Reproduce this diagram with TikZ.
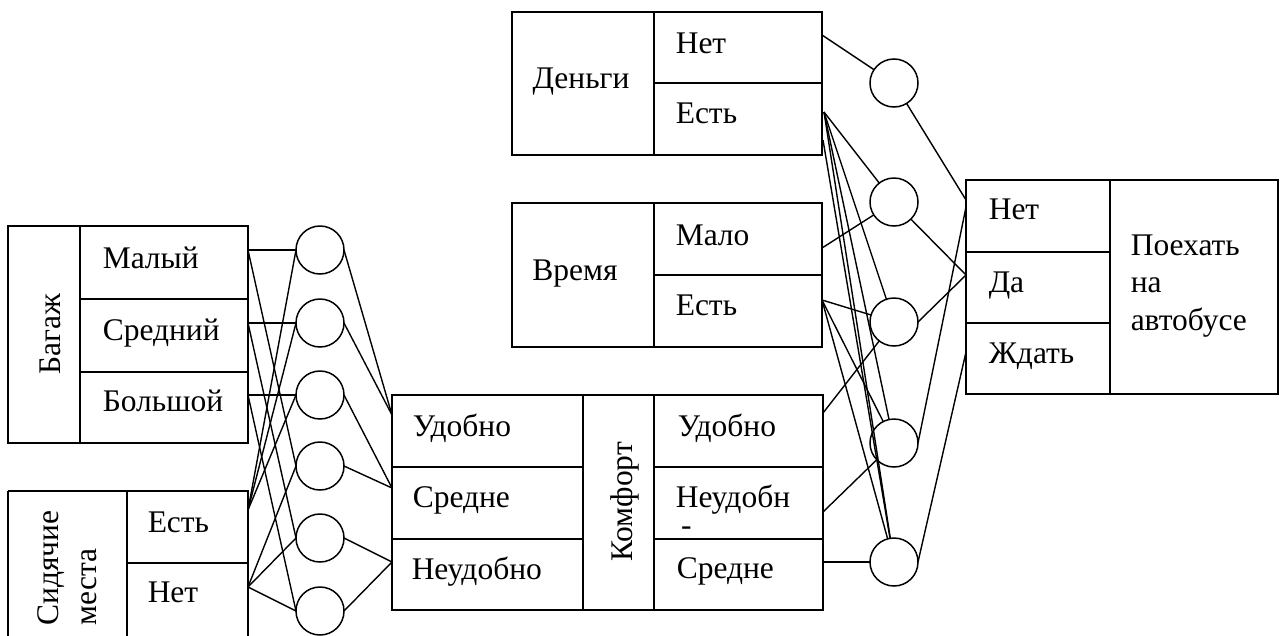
\documentclass[tikz,border=0pt]{standalone}
\usepackage{fontspec}
\setmainfont{Liberation Serif}
\begin{document}
\begin{tikzpicture}[x=1pt,y=-1pt,line width=1.5pt,
  txt/.style={font=\fontsize{31.5}{37.5}\selectfont, inner sep=0pt},
  lbl/.style={txt, anchor=base west},
  neuron/.style={circle, draw, minimum size=48pt, inner sep=0pt, outer sep=0pt},
  wire/.style={line width=1.4pt}]
\useasboundingbox (0,0) rectangle (1288,635);
\fill[white] (0,0) rectangle (1288,635);

% ---------- Багаж ----------
\draw (8,226) rectangle (248,443);
\draw (80,226) -- (80,443);
\draw (80,299) -- (248,299);
\draw (80,372) -- (248,372);
\node[txt, rotate=90] (bag) at (50,334) {Багаж};
\node[lbl] (bm) at (102,268) {Малый};
\node[lbl] (bs) at (102,340) {Средний};
\node[lbl] (bb) at (102,411) {Большой};

% ---------- Сидячие места ----------
\draw (8,491) -- (8,645) (8,491) -- (248,491) -- (248,645);
\draw (127,491) -- (127,645);
\draw (127,563) -- (248,563);
\node[txt, rotate=90, align=left] (sid) at (67,568) {Сидячие\\места};
\node[lbl] (se) at (147,532) {Есть};
\node[lbl] (sn) at (147,602) {Нет};

% ---------- Комфорт ----------
\draw (392,395) rectangle (823,610);
\draw (583,395) -- (583,610);
\draw (654,395) -- (654,610);
\draw (392,467) -- (583,467);
\draw (392,539) -- (583,539);
\draw (654,467) -- (823,467);
\draw (654,539) -- (823,539);
\node[txt, rotate=90] (komf) at (625,502) {Комфорт};
\node[lbl] (kl1) at (412,436) {Удобно};
\node[lbl] (kl2) at (412,507) {Средне};
\node[lbl] (kl3) at (411,579) {Неудобно};
\node[lbl] (kr1) at (677,436) {Удобно};
\node[lbl, align=left, anchor=north west] (kr2) at (675,484) {Неудобн\\[-9pt]\,-};
\node[lbl] (kr3) at (676,578) {Средне};

% ---------- Деньги ----------
\draw (512,12) rectangle (822,155);
\draw (654,12) -- (654,155);
\draw (654,83) -- (822,83);
\node[txt, anchor=base] (den) at (581,88) {Деньги};
\node[lbl] (dnt) at (675,53) {Нет};
\node[lbl] (det) at (675,123) {Есть};

% ---------- Время ----------
\draw (512,203) rectangle (822,347);
\draw (654,203) -- (654,347);
\draw (654,275) -- (822,275);
\node[txt, anchor=base] (vr) at (575,280) {Время};
\node[lbl] (vmt) at (675,245) {Мало};
\node[lbl] (vet) at (675,315) {Есть};

% ---------- Поехать на автобусе ----------
\draw (966,180) rectangle (1278,394);
\draw (1110,180) -- (1110,394);
\draw (966,252) -- (1110,252);
\draw (966,323) -- (1110,323);
\node[lbl] (ont) at (988,219) {Нет};
\node[lbl] (odt) at (988,292) {Да};
\node[lbl] (owt) at (988,363) {Ждать};
\node[txt, align=left, anchor=west] (poe) at (1130,286) {Поехать\\на\\автобусе};

% ---------- neurons ----------
\foreach \i/\yy in {1/250,2/323,3/395,4/466,5/538,6/611}
  \node[neuron] (c\i) at (320,\yy) {};
\foreach \i/\yy in {1/83,2/202,3/322,4/443,5/562}
  \node[neuron] (r\i) at (894,\yy) {};

% ---------- connection points ----------
\coordinate (pbm) at (248,250);
\coordinate (pbs) at (248,323);
\coordinate (pbb) at (248,395);
\coordinate (pse) at (248,510);
\coordinate (psn) at (248,587);
\coordinate (pku) at (392,415);
\coordinate (pks) at (392,488);
\coordinate (pkn) at (392,562);

\coordinate (qdn) at (822,35);
\coordinate (qde) at (824,112);
\coordinate (qde2) at (823,140);
\coordinate (qvm) at (822,248);
\coordinate (qve) at (822,300);
\coordinate (qku) at (823,413);
\coordinate (qkn) at (823,512);
\coordinate (qks) at (823,562);
\coordinate (qon) at (966,200);
\coordinate (qon2) at (966,207);
\coordinate (qod) at (966,275);
\coordinate (qow) at (966,352);

% ---------- left wiring ----------
\draw[wire] (pbm) -- (c1.west);  \draw[wire] (pbm) -- (c4.west);
\draw[wire] (pbs) -- (c2.west);  \draw[wire] (pbs) -- (c5.west);
\draw[wire] (pbb) -- (c3.west);  \draw[wire] (pbb) -- (c6.west);
\draw[wire] (pse) -- (c1.west);  \draw[wire] (pse) -- (c2.west);  \draw[wire] (pse) -- (c3.west);
\draw[wire] (psn) -- (c4.west);  \draw[wire] (psn) -- (c5.west);  \draw[wire] (psn) -- (c6.west);
\draw[wire] (c1.east) -- (pku);  \draw[wire] (c2.east) -- (pku);
\draw[wire] (c3.east) -- (pks);  \draw[wire] (c4.east) -- (pks);
\draw[wire] (c5.east) -- (pkn);  \draw[wire] (c6.east) -- (pkn);

% ---------- right wiring ----------
\draw[wire] (qdn) -- (r1);
\draw[wire] (qde) -- (r2);  \draw[wire] (qde) -- (r3);
\draw[wire] (qde) -- (r4);  \draw[wire] (qde) -- (r5);
\draw[wire] (qde2) -- (r5);
\draw[wire] (qvm) -- (r2);
\draw[wire] (qve) -- (r3);  \draw[wire] (qve) -- (r4);  \draw[wire] (qve) -- (r5);
\draw[wire] (qku) -- (r3);
\draw[wire] (qkn) -- (r4);
\draw[wire] (qks) -- (r5.west);
\draw[wire] (r1) -- (qon);
\draw[wire] (r2) -- (qod);
\draw[wire] (r3.east) -- (qod);
\draw[wire] (r4.east) -- (qon2);
\draw[wire] (r5.east) -- (qow);
\end{tikzpicture}
\end{document}
